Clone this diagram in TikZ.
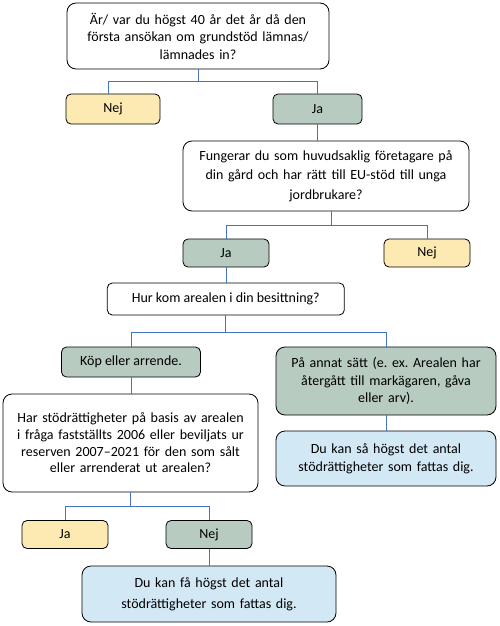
\documentclass[tikz,border=0pt]{standalone}
\usepackage{fontspec}
\setmainfont{Carlito}
\frenchspacing
\definecolor{cyel}{HTML}{FDEAB3}
\definecolor{cgrn}{HTML}{B8CBC0}
\definecolor{cblu}{HTML}{D3E8F5}
\definecolor{clin}{HTML}{4472C4}
\tikzset{
  box/.style={draw=black, line width=0.8pt, align=center, inner sep=0pt, font=\fontsize{14}{17.5}\selectfont},
  bigbox/.style={box, rounded corners=9pt},
  smallbox/.style={box, rounded corners=5pt},
  conn/.style={draw=clin, line width=0.9pt}
}
\begin{document}
\begin{tikzpicture}[x=1pt,y=-1pt]
\useasboundingbox (0,0) rectangle (500,626);
% question 1
\node[bigbox, fill=white, minimum width=262pt, minimum height=66pt, text width=250pt] (q1) at (198,36)
  {Är/ var du högst 40 år det år då den\\första ansökan om grundstöd lämnas/\\lämnades in?};
\node[smallbox, fill=cyel, minimum width=94pt, minimum height=30pt] (nej1) at (113,109) {Nej};
\node[smallbox, fill=cgrn, minimum width=89pt, minimum height=30pt] (ja1) at (317.5,109) {Ja};
% question 2
\node[bigbox, fill=white, minimum width=286pt, minimum height=70pt, text width=270pt,
  font=\fontsize{14}{19.5}\selectfont] (q2) at (326,176)
  {Fungerar du som huvudsaklig företagare på\\din gård och har rätt till EU-stöd till unga\\jordbrukare?};
\node[smallbox, fill=cgrn, minimum width=86pt, minimum height=28pt] (ja2) at (226,253) {Ja};
\node[smallbox, fill=cyel, minimum width=86pt, minimum height=28pt] (nej2) at (427,253) {Nej};
% question 3
\node[smallbox, fill=white, minimum width=237pt, minimum height=32pt] (q3) at (225.8,299) {Hur kom arealen i din besittning?};
\node[smallbox, fill=cgrn, minimum width=139pt, minimum height=30pt] (kop) at (131,362) {Köp eller arrende.};
\node[bigbox, fill=cgrn, minimum width=220pt, minimum height=68pt, text width=210pt] (pa) at (386,381)
  {På annat sätt (e. ex. Arealen har\\återgått till markägaren, gåva\\eller arv).};
% question 4
\node[bigbox, fill=white, minimum width=255pt, minimum height=98pt, text width=245pt,
  font=\fontsize{14}{16.7}\selectfont] (q4) at (130.5,443)
  {Har stödrättigheter på basis av arealen\\i fråga fastställts 2006 eller beviljats ur\\reserven 2007–2021 för den som sålt\\eller arrenderat ut arealen?};
\node[bigbox, fill=cblu, minimum width=220pt, minimum height=55pt, text width=210pt,
  font=\fontsize{14}{18.3}\selectfont] (b1) at (386,458.5)
  {Du kan så högst det antal\\stödrättigheter som fattas dig.};
\node[smallbox, fill=cyel, minimum width=86pt, minimum height=28pt] (ja3) at (65,534.5) {Ja};
\node[smallbox, fill=cgrn, minimum width=86pt, minimum height=28pt] (nej3) at (209,534.5) {Nej};
\node[bigbox, fill=cblu, minimum width=254pt, minimum height=56pt, text width=240pt,
  font=\fontsize{14}{21}\selectfont] (b2) at (209,594)
  {Du kan få högst det antal\\stödrättigheter som fattas dig.};
% connectors
\draw[conn] (q1.south) -- ++(0,12) coordinate (h1) -| ([xshift=-5pt]nej1.north);
\draw[conn] (h1) -| (ja1.north);
\draw[conn] (ja1.south) -- (ja1.south |- q2.north);
\draw[conn] ([xshift=5pt]q2.south) -- ++(0,14) coordinate (h2) -| (ja2.north);
\draw[conn] (h2) -| (nej2.north);
\draw[conn] (ja2.south) -- (ja2.south |- q3.north);
\draw[conn] (q3.south) -- ++(0,17) coordinate (h3) -| (kop.north);
\draw[conn] (h3) -| (pa.north);
\draw[conn] (kop.south) -- (kop.south |- q4.north);
\draw[conn] (pa.south) -- (pa.south |- b1.north);
\draw[conn] (q4.south) -- ++(0,14) coordinate (h4) -| (ja3.north);
\draw[conn] (h4) -| (nej3.north);
\draw[conn] (nej3.south) -- (nej3.south |- b2.north);
\end{tikzpicture}
\end{document}
